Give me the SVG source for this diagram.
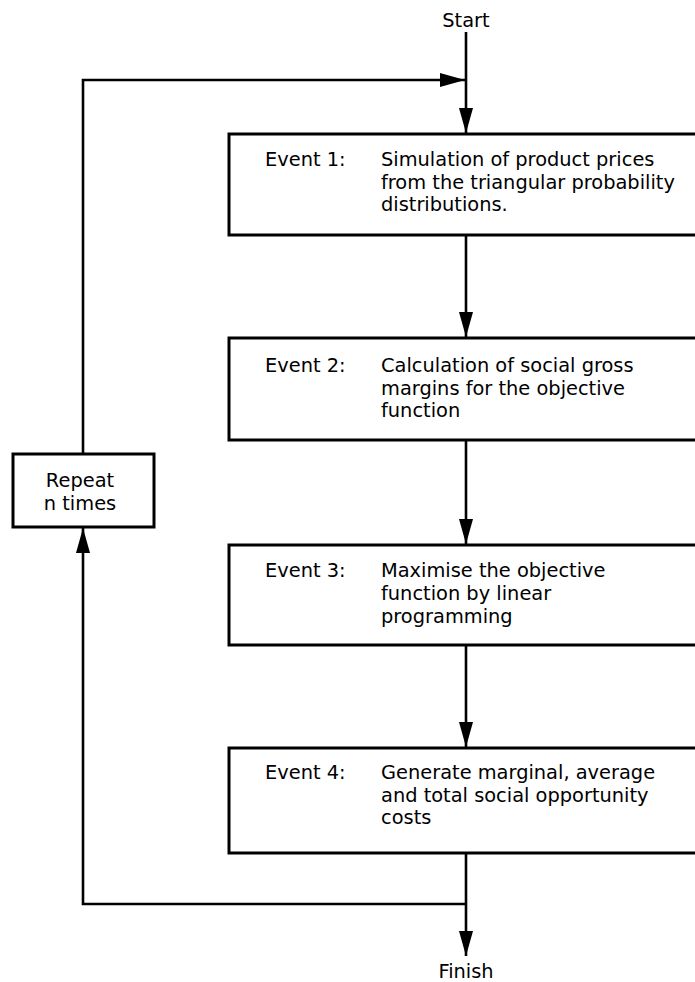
<svg xmlns="http://www.w3.org/2000/svg" width="695" height="982" viewBox="0 0 695 982">
  <style>
    .box { fill: #fff; stroke: #000; stroke-width: 3; }
    .ln { fill: none; stroke: #000; stroke-width: 2.6; }
    text { font-family: "DejaVu Sans", "Liberation Sans", sans-serif; font-size: 19.4px; fill: #000; }
    .c { text-anchor: middle; }
  </style>
  <defs>
    <marker id="ah" markerUnits="userSpaceOnUse" markerWidth="26" markerHeight="14" refX="25" refY="7" orient="auto">
      <path d="M0,0 L25,7 L0,14 z" fill="#000"/>
    </marker>
  </defs>
  <rect width="695" height="982" fill="#fff"/>

  <g id="connectors">
    <line class="ln" x1="466" y1="32" x2="466" y2="133" marker-end="url(#ah)"/>
    <polyline class="ln" points="83,454 83,80 465,80" marker-end="url(#ah)"/>
    <line class="ln" x1="466" y1="235" x2="466" y2="337" marker-end="url(#ah)"/>
    <line class="ln" x1="466" y1="440" x2="466" y2="544" marker-end="url(#ah)"/>
    <line class="ln" x1="466" y1="645" x2="466" y2="747" marker-end="url(#ah)"/>
    <line class="ln" x1="466" y1="853" x2="466" y2="956" marker-end="url(#ah)"/>
    <polyline class="ln" points="466,904 83,904 83,528" marker-end="url(#ah)"/>
  </g>

  <g id="start"><text class="c" x="466" y="27">Start</text></g>

  <g id="event1">
    <rect class="box" x="229" y="134" width="480" height="101"/>
    <text x="265" y="166">Event 1:</text>
    <text x="381" y="166">Simulation of product prices</text>
    <text x="381" y="188.5">from the triangular probability</text>
    <text x="381" y="211">distributions.</text>
  </g>

  <g id="event2">
    <rect class="box" x="229" y="338" width="480" height="102"/>
    <text x="265" y="372">Event 2:</text>
    <text x="381" y="372">Calculation of social gross</text>
    <text x="381" y="395">margins for the objective</text>
    <text x="381" y="417">function</text>
  </g>

  <g id="event3">
    <rect class="box" x="229" y="545" width="480" height="100"/>
    <text x="265" y="577">Event 3:</text>
    <text x="381" y="577">Maximise the objective</text>
    <text x="381" y="600">function by linear</text>
    <text x="381" y="623">programming</text>
  </g>

  <g id="event4">
    <rect class="box" x="229" y="748" width="480" height="105"/>
    <text x="265" y="779">Event 4:</text>
    <text x="381" y="779">Generate marginal, average</text>
    <text x="381" y="802">and total social opportunity</text>
    <text x="381" y="824">costs</text>
  </g>

  <g id="repeat">
    <rect class="box" x="13" y="454" width="141" height="73"/>
    <text class="c" x="80" y="487">Repeat</text>
    <text class="c" x="80" y="510">n times</text>
  </g>

  <g id="finish"><text class="c" x="466" y="978">Finish</text></g>
</svg>
